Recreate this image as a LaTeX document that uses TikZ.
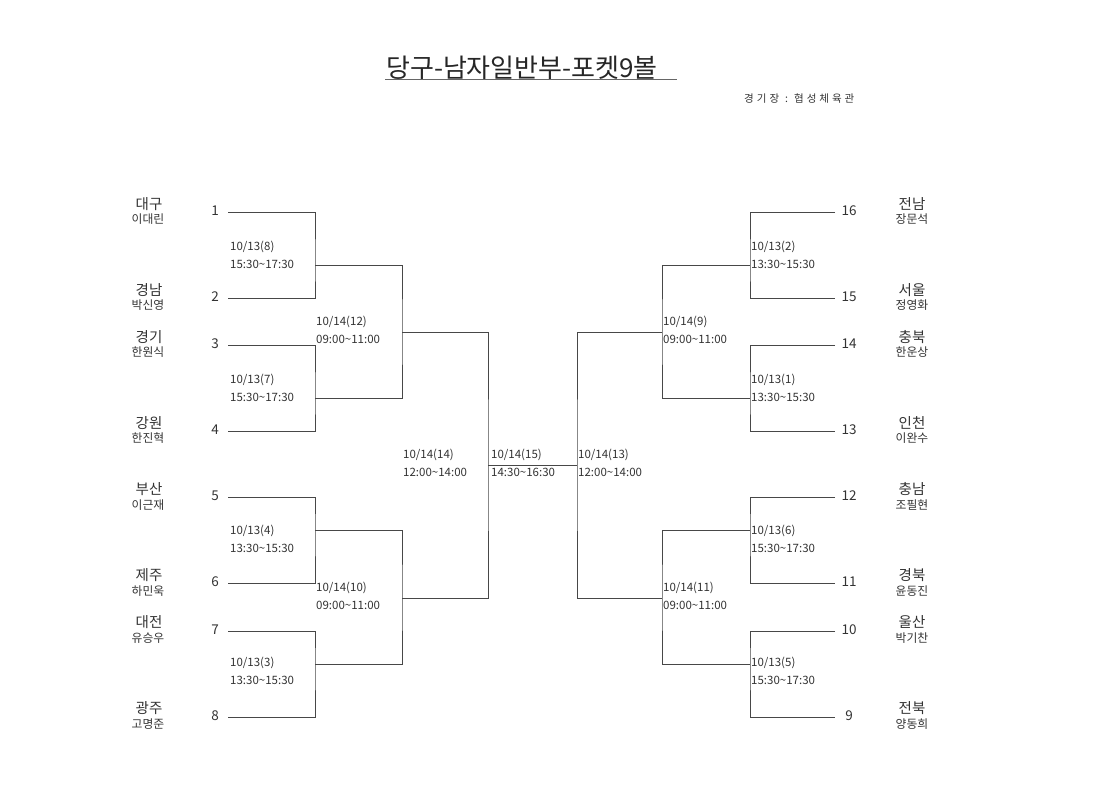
\documentclass[tikz,border=0pt]{standalone}
\usepackage{fontspec}
\setmainfont{Noto Sans CJK KR}
\begin{document}
\begin{tikzpicture}[x=1pt,y=-1pt,
  wire/.style={draw=black!72, line width=0.9pt},
  datetxt/.style={anchor=west, inner sep=0pt, text=black!80, font=\fontsize{11.5}{12}\selectfont},
  seednum/.style={anchor=center, inner sep=0pt, text=black!80, font=\fontsize{13.5}{14}\selectfont},
  region/.style={anchor=center, inner sep=0pt, text=black!80, font=\fontsize{14.5}{15}\selectfont},
  player/.style={anchor=center, inner sep=0pt, text=black!80, font=\fontsize{11.8}{12}\selectfont}]
\useasboundingbox (0,0) rectangle (1120,791);

% title
\node[anchor=base west, inner sep=0pt, text=black!85, font=\fontsize{26}{28}\selectfont] (title) at (386,78) {당구-남자일반부-포켓9볼};
\coordinate (ulA) at (385,80);
\coordinate (ulB) at (677,80);
\draw[draw=black!60, line width=1pt] (ulA) -- (ulB);
\node[anchor=west, inner sep=0pt, text=black!80, font=\fontsize{10.5}{11}\selectfont] (venue) at (744,99)
  {경\kern3pt 기\kern3pt 장\kern6pt :\kern6pt 협\kern3pt 성\kern3pt 체\kern3pt 육\kern3pt 관};

% ---------- left seeds ----------
\coordinate (L1) at (228,212);
\coordinate (L2) at (228,298);
\coordinate (L3) at (228,345);
\coordinate (L4) at (228,431);
\coordinate (L5) at (228,497);
\coordinate (L6) at (228,583);
\coordinate (L7) at (228,631);
\coordinate (L8) at (228,717);
% left joints
\coordinate (m8) at (315,265);
\coordinate (m7) at (315,398);
\coordinate (m4) at (315,530);
\coordinate (m3) at (315,664);
\coordinate (m12) at (402,332);
\coordinate (m10) at (402,598);
\coordinate (m14) at (488,465);
% ---------- right seeds ----------
\coordinate (R16) at (835,212);
\coordinate (R15) at (835,298);
\coordinate (R14) at (835,345);
\coordinate (R13) at (835,431);
\coordinate (R12) at (835,497);
\coordinate (R11) at (835,583);
\coordinate (R10) at (835,631);
\coordinate (R9) at (835,717);
% right joints
\coordinate (m2) at (750,265);
\coordinate (m1) at (750,398);
\coordinate (m6) at (750,530);
\coordinate (m5) at (750,664);
\coordinate (m9) at (662,332);
\coordinate (m11) at (662,598);
\coordinate (m13) at (577,465);

% left bracket
\draw[wire] (L1) -| (m8) |- (L2);
\draw[wire] (L3) -| (m7) |- (L4);
\draw[wire] (L5) -| (m4) |- (L6);
\draw[wire] (L7) -| (m3) |- (L8);
\draw[wire] (m8) -| (m12) |- (m7);
\draw[wire] (m4) -| (m10) |- (m3);
\draw[wire] (m12) -| (m14) |- (m10);
% right bracket
\draw[wire] (R16) -| (m2) |- (R15);
\draw[wire] (R14) -| (m1) |- (R13);
\draw[wire] (R12) -| (m6) |- (R11);
\draw[wire] (R10) -| (m5) |- (R9);
\draw[wire] (m2) -| (m9) |- (m1);
\draw[wire] (m6) -| (m11) |- (m5);
\draw[wire] (m9) -| (m13) |- (m11);
% final
\draw[wire] (m14) -- (m13);

% seed numbers
\node[seednum] (n1) at (215,211) {1};
\node[seednum] (n2) at (215,297) {2};
\node[seednum] (n3) at (215,344) {3};
\node[seednum] (n4) at (215,430) {4};
\node[seednum] (n5) at (215,496) {5};
\node[seednum] (n6) at (215,582) {6};
\node[seednum] (n7) at (215,630) {7};
\node[seednum] (n8) at (215,716) {8};
\node[seednum] (n16) at (849,211) {16};
\node[seednum] (n15) at (849,297) {15};
\node[seednum] (n14) at (849,344) {14};
\node[seednum] (n13) at (849,430) {13};
\node[seednum] (n12) at (849,496) {12};
\node[seednum] (n11) at (849,582) {11};
\node[seednum] (n10) at (849,630) {10};
\node[seednum] (n9) at (849,716) {9};

% left names
\node[region] (r1) at (149,204) {대구};   \node[player] (p1) at (148,219) {이대린};
\node[region] (r2) at (149,290) {경남};   \node[player] (p2) at (148,305) {박신영};
\node[region] (r3) at (149,337) {경기};   \node[player] (p3) at (148,352) {한원식};
\node[region] (r4) at (149,423) {강원};   \node[player] (p4) at (148,438) {한진혁};
\node[region] (r5) at (149,489) {부산};   \node[player] (p5) at (148,505) {이근재};
\node[region] (r6) at (149,575) {제주};   \node[player] (p6) at (148,591) {하민욱};
\node[region] (r7) at (149,622) {대전};   \node[player] (p7) at (148,638) {유승우};
\node[region] (r8) at (149,708) {광주};   \node[player] (p8) at (148,724) {고명준};
% right names
\node[region] (r16) at (912,204) {전남};  \node[player] (p16) at (912,219) {장문석};
\node[region] (r15) at (912,290) {서울};  \node[player] (p15) at (912,305) {정영화};
\node[region] (r14) at (912,337) {충북};  \node[player] (p14) at (912,352) {한운상};
\node[region] (r13) at (912,423) {인천};  \node[player] (p13) at (912,438) {이완수};
\node[region] (r12) at (912,489) {충남};  \node[player] (p12) at (912,505) {조필현};
\node[region] (r11) at (912,575) {경북};  \node[player] (p11) at (912,591) {윤동진};
\node[region] (r10) at (912,622) {울산};  \node[player] (p10) at (912,638) {박기찬};
\node[region] (r9) at (912,708) {전북};   \node[player] (p9) at (912,724) {양동희};

% match labels, left
\node[datetxt] (d8a) at (230,247) {10/13(8)};   \node[datetxt] (d8b) at (230,264) {15:30\textasciitilde17:30};
\node[datetxt] (d7a) at (230,380) {10/13(7)};   \node[datetxt] (d7b) at (230,397) {15:30\textasciitilde17:30};
\node[datetxt] (d4a) at (230,531) {10/13(4)};   \node[datetxt] (d4b) at (230,548) {13:30\textasciitilde15:30};
\node[datetxt] (d3a) at (230,663) {10/13(3)};   \node[datetxt] (d3b) at (230,680) {13:30\textasciitilde15:30};
\node[datetxt] (d12a) at (316,322) {10/14(12)}; \node[datetxt] (d12b) at (316,339) {09:00\textasciitilde11:00};
\node[datetxt] (d10a) at (316,588) {10/14(10)}; \node[datetxt] (d10b) at (316,605) {09:00\textasciitilde11:00};
\node[datetxt] (d14a) at (403,455) {10/14(14)}; \node[datetxt] (d14b) at (403,472) {12:00\textasciitilde14:00};
\node[datetxt] (d15a) at (491,455) {10/14(15)}; \node[datetxt] (d15b) at (491,472) {14:30\textasciitilde16:30};
% match labels, right
\node[datetxt] (d13a) at (578,455) {10/14(13)}; \node[datetxt] (d13b) at (578,472) {12:00\textasciitilde14:00};
\node[datetxt] (d9a) at (663,322) {10/14(9)};   \node[datetxt] (d9b) at (663,339) {09:00\textasciitilde11:00};
\node[datetxt] (d11a) at (663,588) {10/14(11)}; \node[datetxt] (d11b) at (663,605) {09:00\textasciitilde11:00};
\node[datetxt] (d2a) at (751,247) {10/13(2)};   \node[datetxt] (d2b) at (751,264) {13:30\textasciitilde15:30};
\node[datetxt] (d1a) at (751,380) {10/13(1)};   \node[datetxt] (d1b) at (751,397) {13:30\textasciitilde15:30};
\node[datetxt] (d6a) at (751,531) {10/13(6)};   \node[datetxt] (d6b) at (751,548) {15:30\textasciitilde17:30};
\node[datetxt] (d5a) at (751,663) {10/13(5)};   \node[datetxt] (d5b) at (751,680) {15:30\textasciitilde17:30};
\end{tikzpicture}
\end{document}
